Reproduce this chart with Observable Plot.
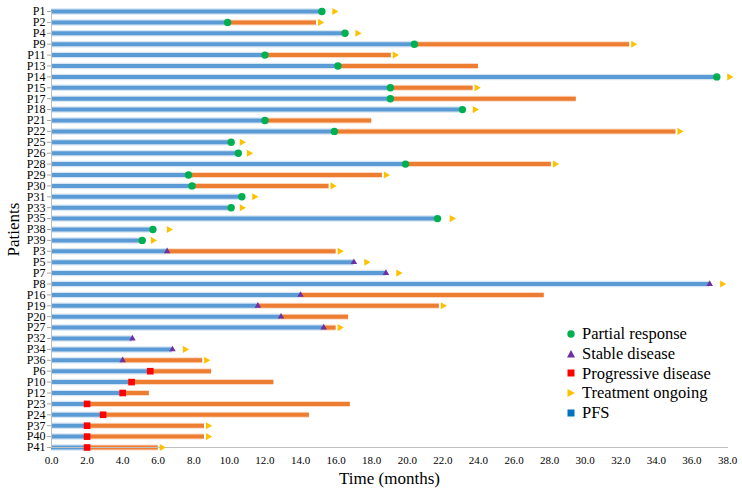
<!DOCTYPE html>
<html>
<head>
<meta charset="utf-8">
<script src="https://cdn.jsdelivr.net/npm/d3@7"></script>
<script src="https://cdn.jsdelivr.net/npm/@observablehq/plot@0.6"></script>
</head>
<body style="margin:0;background:#fff">
<div id="wrap" style="position:relative;width:742px;height:494px;font-family:'Liberation Serif';"></div>
<script>
// Patients (top to bottom)
const patients = ["P1","P2","P4","P9","P11","P13","P14","P15","P17","P18","P21","P22","P25","P26","P28","P29","P30","P31","P33","P35","P38","P39",
  "P3","P5","P7","P8","P16","P19","P20","P27","P32","P34","P36",
  "P6","P10","P12","P23","P24","P37","P40","P41"];
// Time of response assessment (end of blue bar), months
const responseTime = [15.2,9.9,16.5,20.4,12.0,16.1,37.4,19.05,19.05,23.1,12.0,15.9,10.1,10.5,19.9,7.7,7.9,10.7,10.1,21.7,5.7,5.1,
  6.5,17.0,18.8,37.0,14.0,11.6,12.9,15.3,4.55,6.8,4.0,
  5.55,4.5,4.0,2.0,2.9,2.0,2.0,2.0];
// End of orange bar (null = none)
const orangeEnd = [null,14.9,null,32.5,19.1,24.0,null,23.7,29.5,null,18.0,35.1,null,null,28.1,18.6,15.6,null,null,null,null,null,
  16.0,null,null,null,27.7,21.8,16.7,16.0,null,null,8.5,
  9.0,12.5,5.5,16.8,14.5,8.6,8.6,6.0];
// Response category at the marker
const responseType = ["PR","PR","PR","PR","PR","PR","PR","PR","PR","PR","PR","PR","PR","PR","PR","PR","PR","PR","PR","PR","PR","PR",
  "SD","SD","SD","SD","SD","SD","SD","SD","SD","SD","SD",
  "PD","PD","PD","PD","PD","PD","PD","PD"];
// Treatment ongoing arrow position (null = none)
const ongoingAt = [15.9,15.1,17.2,32.7,19.3,null,38.1,23.9,null,23.8,null,35.3,10.7,11.1,28.3,18.8,15.8,11.4,10.7,22.5,6.6,5.7,
  16.2,17.7,19.5,37.7,null,22.0,null,16.2,null,7.5,8.7,
  null,null,null,null,null,8.8,8.8,6.2];
const xTicks = d3.range(0, 39, 2);

const FONT = "Liberation Serif";
const rows = patients.map((p, i) => ({p, m: responseTime[i], o: orangeEnd[i], type: responseType[i], a: ongoingAt[i]}));
const withOrange = rows.filter(d => d.o != null);
const withArrow = rows.filter(d => d.a != null);

const chart = Plot.plot({
  width: 742,
  height: 494,
  marginLeft: 51,
  marginRight: 15,
  marginTop: 11,
  marginBottom: 47,
  style: {fontFamily: FONT, fontSize: "12px", color: "#000", background: "#fff"},
  x: {domain: [0, 38]},
  y: {domain: patients, padding: 0},
  marks: [
    Plot.ruleY(rows, {y: "p", x1: 0, x2: "m", stroke: "#d6e5f4", strokeWidth: 6.5}),
    Plot.ruleY(rows, {y: "p", x1: 0, x2: "m", stroke: "#5b9bd5", strokeWidth: 4}),
    Plot.ruleY(withOrange, {y: "p", x1: "m", x2: "o", stroke: "#fbd9c3", strokeWidth: 6}),
    Plot.ruleY(withOrange, {y: "p", x1: "m", x2: "o", stroke: "#ed7d31", strokeWidth: 4}),
    Plot.frame({anchor: "bottom", stroke: "#bfbfbf"}),
    Plot.ruleX([0], {stroke: "#bfbfbf"}),
    Plot.axisX({ticks: xTicks, tickFormat: d => d.toFixed(1), tickSize: 0, tickPadding: 9,
      label: "Time (months)", labelAnchor: "center", labelArrow: "none", labelOffset: 36}),
    Plot.axisY({tickSize: 4, tickPadding: 2, label: "Patients", labelAnchor: "center", labelArrow: "none", labelOffset: 45}),
    Plot.dot(withArrow, {y: "p", x: "a", symbol: "triangle2", rotate: 90, r: 3.4, fill: "#ffc000"}),
    Plot.dot(rows.filter(d => d.type === "PR"), {y: "p", x: "m", symbol: "circle", r: 3.7, fill: "#00b050"}),
    Plot.dot(rows.filter(d => d.type === "SD"), {y: "p", x: "m", symbol: "triangle2", r: 3.1, fill: "#7030a0"}),
    Plot.dot(rows.filter(d => d.type === "PD"), {y: "p", x: "m", symbol: "square2", r: 4.2, fill: "#ff0000"})
  ]
});

// Force fonts/sizes inline on the rendered SVG
const svg = d3.select(chart);
svg.attr("font-family", FONT).style("font-family", FONT);
svg.selectAll("text").attr("font-family", FONT).style("font-family", FONT);
svg.selectAll('g[aria-label="x-axis tick label"] text').style("font-size", "11px").attr("font-size", 11);
svg.selectAll('g[aria-label="x-axis label"], g[aria-label="y-axis label"]').attr("font-size", 17).style("font-size", "17px");
svg.selectAll('g[aria-label="x-axis label"] text, g[aria-label="y-axis label"] text').style("font-size", "17px");
svg.selectAll('g[aria-label="y-axis tick"]').attr("stroke", "#a6a6a6");

const wrap = document.getElementById("wrap");
wrap.appendChild(chart);

// Legend
const legendItems = [
  {label: "Partial response", color: "#00b050", shape: "circle"},
  {label: "Stable disease", color: "#7030a0", shape: "triangle"},
  {label: "Progressive disease", color: "#ff0000", shape: "square"},
  {label: "Treatment ongoing", color: "#ffc000", shape: "arrow"},
  {label: "PFS", color: "#0070c0", shape: "square"}
];
const shapes = {
  circle: c => `<circle cx="6" cy="6" r="3.7" fill="${c}"/>`,
  triangle: c => `<polygon points="6,2 10,9.5 2,9.5" fill="${c}"/>`,
  square: c => `<rect x="2.5" y="2.5" width="7" height="7" fill="${c}"/>`,
  arrow: c => `<polygon points="2.5,2 10,6 2.5,10" fill="${c}"/>`
};
const legend = document.createElement("div");
legend.setAttribute("style", "position:absolute;left:565px;top:324px;font-family:'Liberation Serif';font-size:16.5px;color:#000;line-height:19.8px;");
legend.innerHTML = legendItems.map(it =>
  `<div style="display:flex;align-items:center;white-space:nowrap;"><svg viewBox="0 0 12 12" style="width:12px;height:12px;margin-right:5px;flex:none">${shapes[it.shape](it.color)}</svg><span style="font-family:'Liberation Serif'">${it.label}</span></div>`).join("");
wrap.appendChild(legend);
</script>
</body>
</html>
